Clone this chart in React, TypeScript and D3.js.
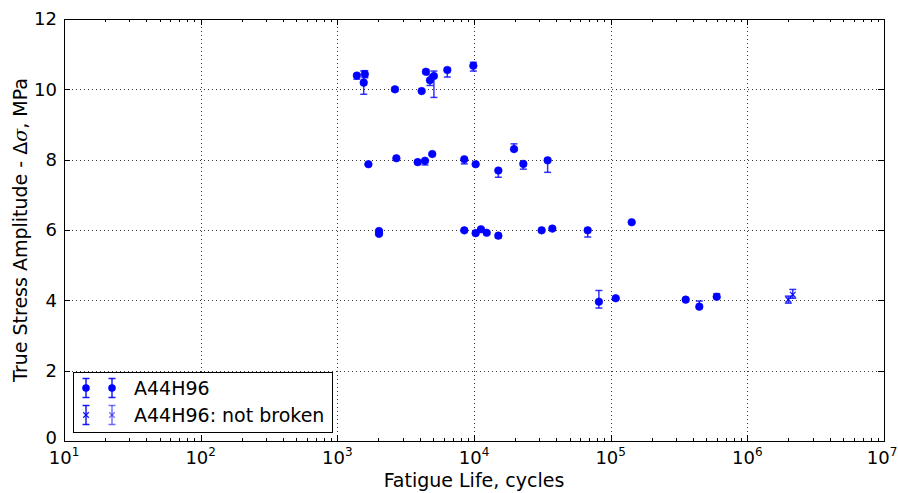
import React, { useEffect, useRef } from "react";
import * as d3 from "d3";

// Broken specimens: cycles to failure, stress amplitude (MPa), error below / above
const brokenCycles = [
  1390, 1590, 1560, 2640, 4140, 4450, 4760, 5090, 6380, 9890,
  1688, 2705, 3873, 4378, 4950, 8490, 10280, 15070, 19630, 22960, 34570,
  2018, 2018, 8490, 10280, 11240, 12380, 15070, 31250, 37430, 67900, 142500,
  82000, 108900, 354000, 445300, 597000,
];
const brokenStress = [
  10.39, 10.43, 10.19, 10.0, 9.95, 10.5, 10.26, 10.38, 10.55, 10.67,
  7.87, 8.04, 7.93, 7.97, 8.16, 8.01, 7.87, 7.69, 8.3, 7.88, 7.98,
  5.97, 5.89, 5.99, 5.91, 6.02, 5.92, 5.84, 5.99, 6.04, 5.99, 6.22,
  3.96, 4.06, 4.02, 3.82, 4.1,
];
const brokenErrLow = [
  0.1, 0.1, 0.33, 0.05, 0.03, 0.05, 0.15, 0.61, 0.2, 0.15,
  0.03, 0.03, 0.03, 0.12, 0.03, 0.13, 0.03, 0.19, 0.03, 0.15, 0.34,
  0.03, 0.03, 0.03, 0.03, 0.03, 0.03, 0.06, 0.03, 0.03, 0.19, 0.03,
  0.18, 0.03, 0.03, 0.03, 0.03,
];
const brokenErrHigh = [
  0.05, 0.1, 0.33, 0.05, 0.03, 0.05, 0.15, 0.14, 0.05, 0.1,
  0.03, 0.03, 0.03, 0.02, 0.03, 0.03, 0.03, 0.03, 0.15, 0.03, 0.05,
  0.03, 0.03, 0.03, 0.03, 0.03, 0.03, 0.03, 0.03, 0.03, 0.05, 0.03,
  0.32, 0.03, 0.03, 0.16, 0.09,
];

// Run-outs (not broken)
const runoutCycles = [1995000, 2150000];
const runoutStress = [4.02, 4.16];
const runoutErrLow = [0.1, 0.1];
const runoutErrHigh = [0.1, 0.15];

const xTickExponents = [1, 2, 3, 4, 5, 6, 7];
const yTicks = [0, 2, 4, 6, 8, 10, 12];
const legendLabels = ["A44H96", "A44H96: not broken"];

const BLUE = "#0000ff";
const FONT = "DejaVu Sans, sans-serif";

export default function App() {
  const svgRef = useRef<SVGSVGElement>(null);

  useEffect(() => {
    const width = 898;
    const height = 493;
    const margin = { top: 19, right: 14, bottom: 52, left: 64 };
    const innerW = width - margin.left - margin.right;
    const innerH = height - margin.top - margin.bottom;

    const svg = d3.select(svgRef.current);
    svg.selectAll("*").remove();

    const x = d3.scaleLog().domain([10, 1e7]).range([0, innerW]);
    const y = d3.scaleLinear().domain([0, 12]).range([innerH, 0]);

    const g = svg
      .append("g")
      .attr("transform", `translate(${margin.left},${margin.top})`);

    // Grid (dotted, classic matplotlib)
    const grid = g.append("g").attr("stroke", "#000").attr("stroke-width", 0.8)
      .attr("stroke-dasharray", "1,3");
    xTickExponents.slice(1, -1).forEach((e) => {
      const px = Math.round(x(10 ** e)) + 0.5;
      grid.append("line").attr("x1", px).attr("x2", px).attr("y1", 0).attr("y2", innerH);
    });
    yTicks.slice(1, -1).forEach((v) => {
      const py = Math.round(y(v)) + 0.5;
      grid.append("line").attr("x1", 0).attr("x2", innerW).attr("y1", py).attr("y2", py);
    });

    // Ticks on all four sides, pointing inwards
    const ticks = g.append("g").attr("stroke", "#000").attr("stroke-width", 1);
    xTickExponents.forEach((e) => {
      const px = Math.round(x(10 ** e)) + 0.5;
      ticks.append("line").attr("x1", px).attr("x2", px).attr("y1", innerH).attr("y2", innerH - 6);
      ticks.append("line").attr("x1", px).attr("x2", px).attr("y1", 0).attr("y2", 6);
      if (e < 7) {
        for (let m = 2; m <= 9; m++) {
          const mx = Math.round(x(m * 10 ** e)) + 0.5;
          ticks.append("line").attr("x1", mx).attr("x2", mx).attr("y1", innerH).attr("y2", innerH - 3);
          ticks.append("line").attr("x1", mx).attr("x2", mx).attr("y1", 0).attr("y2", 3);
        }
      }
      const t = g.append("text")
        .attr("x", x(10 ** e) - (e === 7 ? 2 : 0))
        .attr("y", innerH + 23)
        .attr("text-anchor", "middle")
        .attr("font-family", FONT)
        .attr("font-size", 18)
        .attr("fill", "#000");
      t.append("tspan").text("10");
      t.append("tspan").attr("dy", -8).attr("font-size", 12).text(String(e));
    });
    yTicks.forEach((v) => {
      const py = Math.round(y(v)) + 0.5;
      ticks.append("line").attr("x1", 0).attr("x2", 6).attr("y1", py).attr("y2", py);
      ticks.append("line").attr("x1", innerW).attr("x2", innerW - 6).attr("y1", py).attr("y2", py);
      g.append("text")
        .attr("x", -7)
        .attr("y", y(v) - (v === 0 ? 3 : 0))
        .attr("dy", "0.36em")
        .attr("text-anchor", "end")
        .attr("font-family", FONT)
        .attr("font-size", 18)
        .attr("fill", "#000")
        .text(String(v));
    });

    // Error bars
    const drawErr = (
      parent: d3.Selection<SVGGElement, unknown, null, undefined>,
      cx: number, yLo: number, yHi: number, opacity: number,
    ) => {
      const eg = parent.append("g").attr("stroke", BLUE).attr("stroke-width", 1.5)
        .attr("stroke-opacity", opacity);
      eg.append("line").attr("x1", cx).attr("x2", cx).attr("y1", yLo).attr("y2", yHi);
      eg.append("line").attr("x1", cx - 3.5).attr("x2", cx + 3.5).attr("y1", yLo).attr("y2", yLo);
      eg.append("line").attr("x1", cx - 3.5).attr("x2", cx + 3.5).attr("y1", yHi).attr("y2", yHi);
    };
    const drawX = (
      parent: d3.Selection<SVGGElement, unknown, null, undefined>,
      cx: number, cy: number, opacity: number,
    ) => {
      const s = 2.8;
      parent.append("path")
        .attr("d", `M${cx - s},${cy - s}L${cx + s},${cy + s}M${cx - s},${cy + s}L${cx + s},${cy - s}`)
        .attr("stroke", BLUE).attr("stroke-width", 1.3).attr("stroke-opacity", opacity)
        .attr("fill", "none");
    };

    const marks = g.append("g");
    brokenCycles.forEach((c, i) => {
      const cx = x(c);
      drawErr(marks, cx, y(brokenStress[i] - brokenErrLow[i]), y(brokenStress[i] + brokenErrHigh[i]), 0.8);
    });
    brokenCycles.forEach((c, i) => {
      marks.append("circle")
        .attr("cx", x(c))
        .attr("cy", y(brokenStress[i]))
        .attr("r", 3.8)
        .attr("fill", BLUE)
        .attr("stroke", BLUE)
        .attr("stroke-opacity", 0.6)
        .attr("stroke-width", 1);
    });
    runoutCycles.forEach((c, i) => {
      const cx = x(c);
      drawErr(marks, cx, y(runoutStress[i] - runoutErrLow[i]), y(runoutStress[i] + runoutErrHigh[i]), 0.8);
      drawX(marks, cx, y(runoutStress[i]), 0.9);
    });

    // Frame
    g.append("rect")
      .attr("x", 0.5).attr("y", 0.5)
      .attr("width", innerW).attr("height", innerH)
      .attr("fill", "none").attr("stroke", "#000").attr("stroke-width", 1);

    // Legend
    const lg = g.append("g").attr("transform", `translate(${73 - margin.left},${372 - margin.top})`);
    lg.append("rect")
      .attr("x", 0.5).attr("y", 0.5).attr("width", 259).attr("height", 60)
      .attr("fill", "#fff").attr("stroke", "#000").attr("stroke-width", 1);
    const rowY = [16, 43];
    const mxs = [13, 39];
    legendLabels.forEach((label, r) => {
      mxs.forEach((mx, k) => {
        drawErr(lg, mx, rowY[r] + 9.5, rowY[r] - 9.5, r === 1 && k === 1 ? 0.55 : 0.9);
        if (r === 0) {
          lg.append("circle").attr("cx", mx).attr("cy", rowY[r]).attr("r", 3.8).attr("fill", BLUE);
        } else {
          drawX(lg, mx, rowY[r], k === 1 ? 0.55 : 0.9);
        }
      });
      lg.append("text")
        .attr("x", 61)
        .attr("y", rowY[r])
        .attr("dy", "0.36em")
        .attr("font-family", FONT)
        .attr("font-size", 19)
        .attr("fill", "#000")
        .text(label);
    });

    // Axis labels
    svg.append("text")
      .attr("x", margin.left + innerW / 2)
      .attr("y", 487)
      .attr("text-anchor", "middle")
      .attr("font-family", FONT)
      .attr("font-size", 19)
      .attr("fill", "#000")
      .text("Fatigue Life, cycles");

    const yl = svg.append("text")
      .attr("transform", `translate(27,${margin.top + innerH / 2}) rotate(-90)`)
      .attr("text-anchor", "middle")
      .attr("font-family", FONT)
      .attr("font-size", 19)
      .attr("fill", "#000");
    yl.append("tspan").text("True Stress Amplitude - Δ");
    yl.append("tspan").attr("font-style", "italic").attr("font-family", "DejaVu Serif, serif").text("σ");
    yl.append("tspan").text(", MPa");
  }, []);

  return (
    <svg
      ref={svgRef}
      width={898}
      height={493}
      style={{ position: "absolute", left: 0, top: 0, background: "#fff" }}
    />
  );
}
